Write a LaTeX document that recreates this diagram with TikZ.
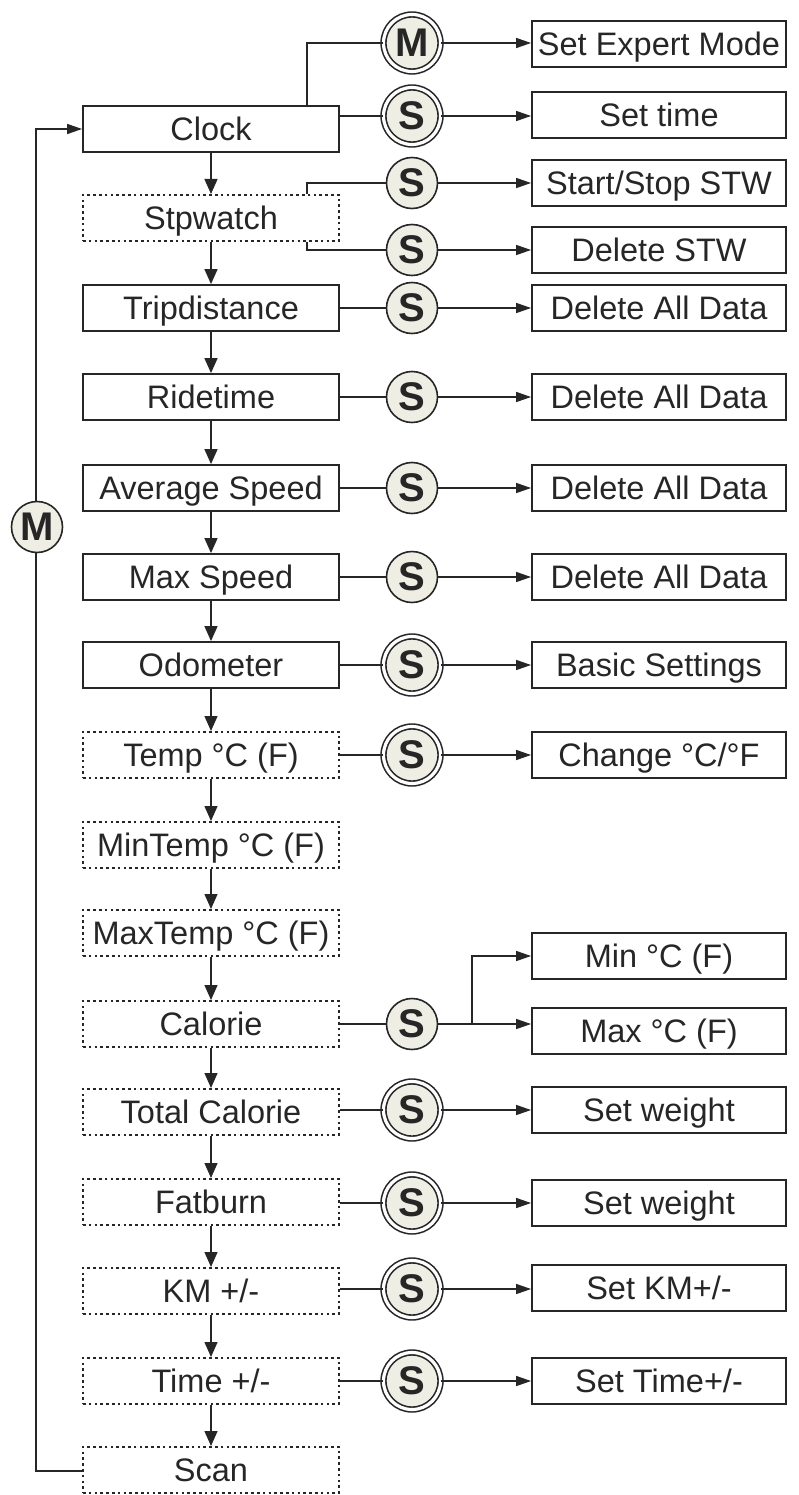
\documentclass[tikz,border=0pt]{standalone}
\usepackage{fontspec}
\setmainfont{Liberation Sans}
\usetikzlibrary{arrows.meta}
\definecolor{ink}{RGB}{38,38,38}
\definecolor{cfill}{RGB}{238,238,228}
\begin{document}
\begin{tikzpicture}[x=1pt,y=-1pt,
  box/.style={draw=ink, line width=1.8pt, minimum width=256pt, minimum height=46pt, inner sep=0pt, text height=23.3pt, text depth=0pt, font=\fontsize{32.5}{38}\selectfont, text=ink},
  rbox/.style={box, minimum width=254pt},
  dbox/.style={box, line width=2pt, dash pattern=on 2.6pt off 3.2pt},
  sc/.style={circle, draw=ink, line width=1.6pt, fill=cfill, minimum size=51pt, inner sep=0pt, font=\fontsize{40}{40}\selectfont\bfseries, text=ink},
  dc/.style={sc, minimum size=57pt, double=white, double distance=3.2pt, line width=1.6pt},
  conn/.style={draw=ink, line width=1.4pt},
  arr/.style={conn, -{Triangle[length=15pt,width=10pt]}},
  varr/.style={conn, -{Triangle[length=15pt,width=13pt]}}]
\useasboundingbox (0,0) rectangle (798,1495);
% left column
\node[box]  (clock) at (211,129)  {Clock};
\node[dbox] (stpw)  at (211,218)  {Stpwatch};
\node[box]  (trip)  at (211,308)  {Tripdistance};
\node[box]  (ride)  at (211,397)  {Ridetime};
\node[box]  (avg)   at (211,488)  {Average Speed};
\node[box]  (maxs)  at (211,577)  {Max Speed};
\node[box]  (odo)   at (211,665)  {Odometer};
\node[dbox] (temp)  at (211,755)  {Temp °C (F)};
\node[dbox] (mint)  at (211,845)  {MinTemp °C (F)};
\node[dbox] (maxt)  at (211,933)  {MaxTemp °C (F)};
\node[dbox] (cal)   at (211,1024) {Calorie};
\node[dbox] (tcal)  at (211,1112) {Total Calorie};
\node[dbox] (fat)   at (211,1202) {Fatburn};
\node[dbox] (km)    at (211,1291) {KM +/-};
\node[dbox] (time)  at (211,1381) {Time +/-};
\node[dbox] (scan)  at (211,1470) {Scan};
% right column
\node[rbox] (r0)  at (659,44)   {Set Expert Mode};
\node[rbox] (r1)  at (659,115)  {Set time};
\node[rbox] (r2)  at (659,183)  {Start/Stop STW};
\node[rbox] (r3)  at (659,250)  {Delete STW};
\node[rbox] (r4)  at (659,308)  {Delete All Data};
\node[rbox] (r5)  at (659,397)  {Delete All Data};
\node[rbox] (r6)  at (659,488)  {Delete All Data};
\node[rbox] (r7)  at (659,577)  {Delete All Data};
\node[rbox] (r8)  at (659,665)  {Basic Settings};
\node[rbox] (r9)  at (659,755)  {Change °C/°F};
\node[rbox] (r10) at (659,956)  {Min °C (F)};
\node[rbox] (r11) at (659,1031) {Max °C (F)};
\node[rbox] (r12) at (659,1110) {Set weight};
\node[rbox] (r13) at (659,1203) {Set weight};
\node[rbox] (r14) at (659,1288) {Set KM+/-};
\node[rbox] (r15) at (659,1381) {Set Time+/-};
% circles
\node[dc] (cm)  at (412,43)   {M};
\node[dc] (c1)  at (412,116)  {S};
\node[sc] (c2)  at (412,183)  {S};
\node[sc] (c3)  at (412,250)  {S};
\node[sc] (c4)  at (412,308)  {S};
\node[sc] (c5)  at (412,397)  {S};
\node[sc] (c6)  at (412,488)  {S};
\node[sc] (c7)  at (412,577)  {S};
\node[dc] (c8)  at (412,665)  {S};
\node[dc] (c9)  at (412,755)  {S};
\node[sc] (c10) at (412,1024) {S};
\node[dc] (c11) at (412,1110) {S};
\node[dc] (c12) at (412,1203) {S};
\node[dc] (c13) at (412,1289) {S};
\node[dc] (c14) at (412,1381) {S};
% vertical flow
\draw[varr] (clock.south) -- (stpw.north);
\draw[varr] (stpw.south) -- (trip.north);
\draw[varr] (trip.south) -- (ride.north);
\draw[varr] (ride.south) -- (avg.north);
\draw[varr] (avg.south) -- (maxs.north);
\draw[varr] (maxs.south) -- (odo.north);
\draw[varr] (odo.south) -- (temp.north);
\draw[varr] (temp.south) -- (mint.north);
\draw[varr] (mint.south) -- (maxt.north);
\draw[varr] (maxt.south) -- (cal.north);
\draw[varr] (cal.south) -- (tcal.north);
\draw[varr] (tcal.south) -- (fat.north);
\draw[varr] (fat.south) -- (km.north);
\draw[varr] (km.south) -- (time.north);
\draw[varr] (time.south) -- (scan.north);
% clock branches
\coordinate (k1) at (307,0);
\draw[conn] (clock.north -| k1) |- (cm.west);
\draw[arr] (cm.east) -- (cm.east -| r0.west);
\draw[conn] (c1.west -| clock.east) -- (c1.west);
\draw[arr] (c1.east) -- (c1.east -| r1.west);
% stopwatch branches
\draw[conn] (stpw.north -| k1) |- (c2.west);
\draw[conn] (stpw.south -| k1) |- (c3.west);
\draw[arr] (c2.east) -- (c2.east -| r2.west);
\draw[arr] (c3.east) -- (c3.east -| r3.west);
% simple rows
\draw[conn] (trip.east) -- (c4.west);  \draw[arr] (c4.east) -- (c4.east -| r4.west);
\draw[conn] (ride.east) -- (c5.west);  \draw[arr] (c5.east) -- (c5.east -| r5.west);
\draw[conn] (avg.east) -- (c6.west);   \draw[arr] (c6.east) -- (c6.east -| r6.west);
\draw[conn] (maxs.east) -- (c7.west);  \draw[arr] (c7.east) -- (c7.east -| r7.west);
\draw[conn] (odo.east) -- (c8.west);   \draw[arr] (c8.east) -- (c8.east -| r8.west);
\draw[conn] (temp.east) -- (c9.west);  \draw[arr] (c9.east) -- (c9.east -| r9.west);
% calorie fork
\coordinate (fork) at (472,1024);
\draw[conn] (cal.east) -- (c10.west);
\draw[arr] (c10.east) -- (c10.east -| r11.west);
\draw[arr] (c10.east -| fork) |- (r10.west);
\draw[conn] (c11.west -| tcal.east) -- (c11.west); \draw[arr] (c11.east) -- (c11.east -| r12.west);
\draw[conn] (c12.west -| fat.east) -- (c12.west);  \draw[arr] (c12.east) -- (c12.east -| r13.west);
\draw[conn] (c13.west -| km.east) -- (c13.west);   \draw[arr] (c13.east) -- (c13.east -| r14.west);
\draw[conn] (time.east) -- (c14.west); \draw[arr] (c14.east) -- (c14.east -| r15.west);
% return loop
\coordinate (lb) at (36,1471);
\coordinate (lt) at (36,129);
\draw[arr] (scan.west |- lb) -- (lb) -- (lt) -- (clock.west);
\node[sc] (lm) at (37,527) {M};
\end{tikzpicture}
\end{document}
